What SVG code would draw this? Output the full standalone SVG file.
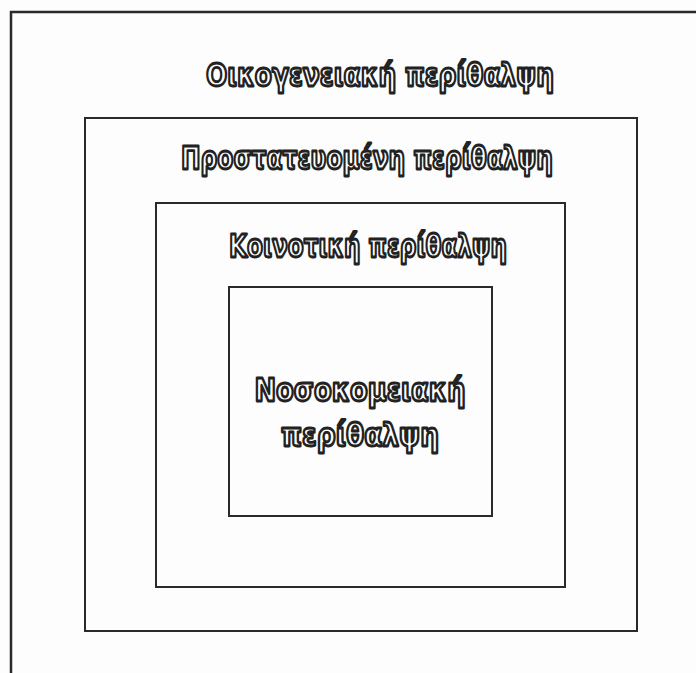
<svg xmlns="http://www.w3.org/2000/svg" width="696" height="673" viewBox="0 0 696 673">
<style>
.box{fill:none;stroke:#2a2a2a;stroke-width:2}
.lbl{font-family:"DejaVu Sans","Open Sans",sans-serif;font-weight:700;font-size:32px;fill:#fff;stroke:#222;stroke-width:2.8;stroke-linejoin:round;text-anchor:middle}
</style>
<rect width="696" height="673" fill="#fdfdfd"/>
<g id="frame"><path d="M11,673 V12 H696" fill="none" stroke="#2a2a2a" stroke-width="2.5"/></g>
<g id="family">
<rect class="box" x="85" y="118" width="552" height="513"/>
<text class="lbl" x="380" y="86" textLength="348" lengthAdjust="spacingAndGlyphs">Οικογενειακή περίθαλψη</text>
</g>
<g id="protected">
<rect class="box" x="156" y="203" width="409" height="384"/>
<text class="lbl" x="367" y="169" textLength="372" lengthAdjust="spacingAndGlyphs">Προστατευομένη περίθαλψη</text>
</g>
<g id="community">
<rect class="box" x="229" y="287" width="263" height="229"/>
<text class="lbl" x="368" y="257" textLength="278" lengthAdjust="spacingAndGlyphs">Κοινοτική περίθαλψη</text>
</g>
<g id="hospital">
<text class="lbl" x="360" y="401" textLength="211" lengthAdjust="spacingAndGlyphs">Νοσοκομειακή</text>
<text class="lbl" x="360" y="446" textLength="158" lengthAdjust="spacingAndGlyphs">περίθαλψη</text>
</g>
<g id="connectors"></g>
</svg>
